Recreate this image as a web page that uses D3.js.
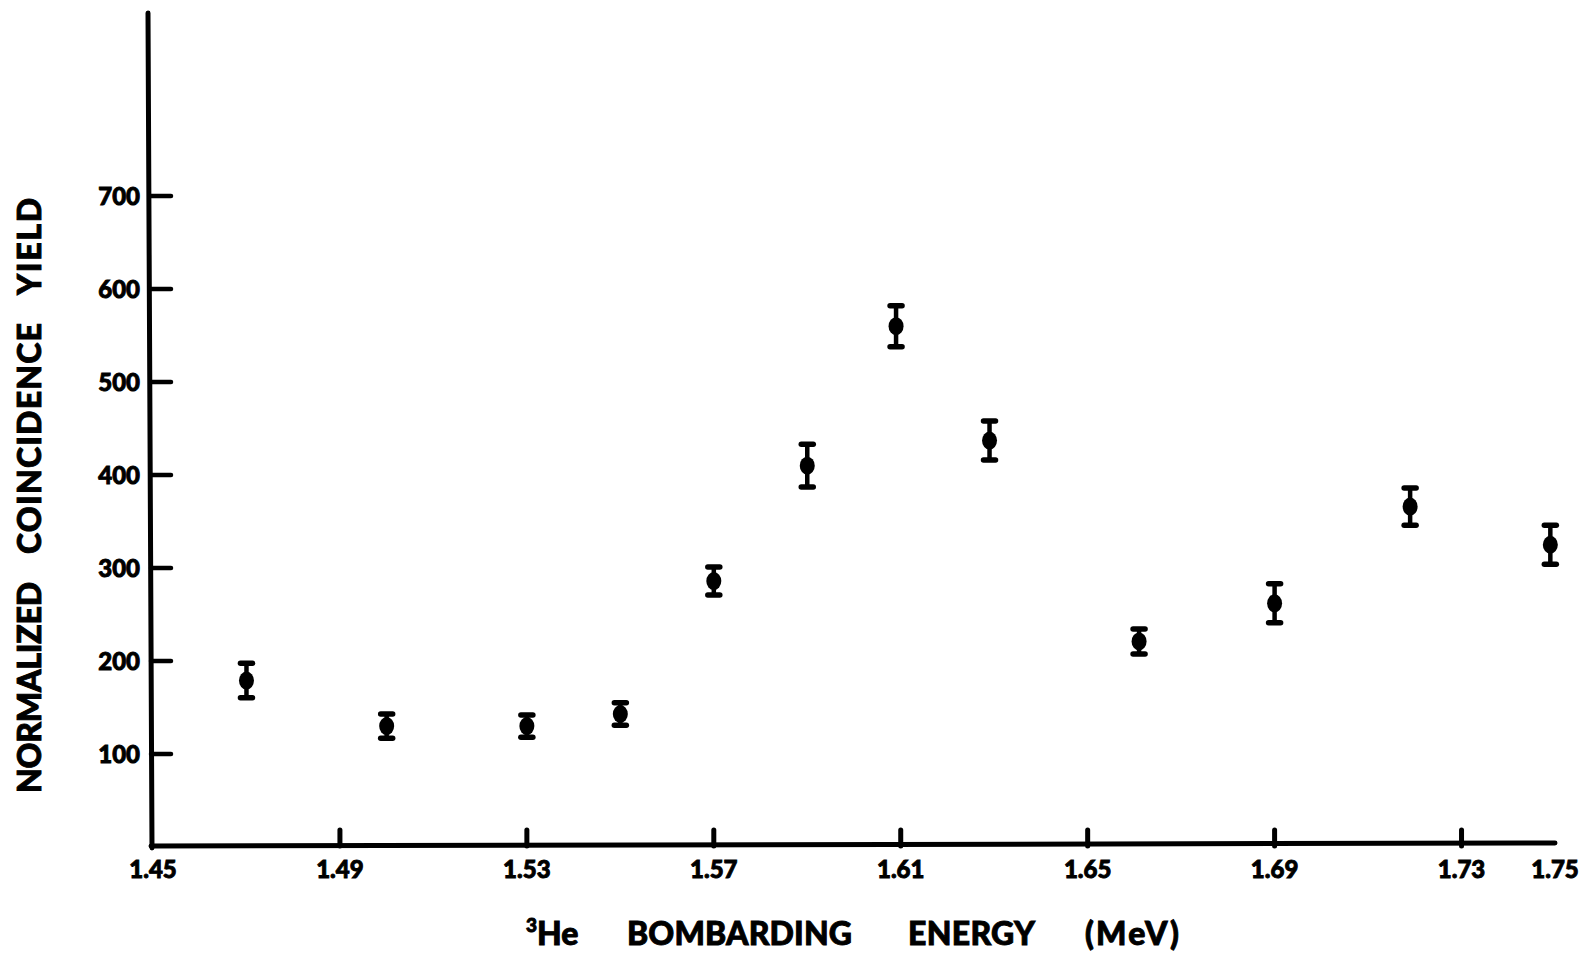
<!DOCTYPE html>
<html>
<head>
<meta charset="utf-8">
<script src="https://cdn.jsdelivr.net/npm/d3@7"></script>
<style>
  html, body { margin: 0; padding: 0; background: #fff; }
  svg { display: block; }
  text { font-family: Lato, "Open Sans", sans-serif; font-weight: 900; fill: #000; stroke: #000; stroke-width: 0.9; }
</style>
</head>
<body>
<svg id="chart" width="1594" height="958"></svg>
<script>
// ---- data ----
const energies = [1.47, 1.50, 1.53, 1.55, 1.57, 1.59, 1.609, 1.629, 1.661, 1.69, 1.719, 1.749];
const yields   = [179, 130, 130, 143, 286, 410, 560, 437, 221, 262, 366, 325];
const errors   = [18.5, 13, 12, 12, 15, 23, 22, 21, 13.5, 21, 20, 21];
const xTicks = [1.49, 1.53, 1.57, 1.61, 1.65, 1.69, 1.73];
const xTickLabels = [1.45, 1.49, 1.53, 1.57, 1.61, 1.65, 1.69, 1.73, 1.75];
const yTicks = [100, 200, 300, 400, 500, 600, 700];

const svg = d3.select("#chart");
const x = d3.scaleLinear().domain([1.45, 1.75]).range([153, 1555]);
const y = d3.scaleLinear().domain([0, 700]).range([847, 196]);

const axisX0 = 151, axisY0 = 846;

// axes lines
svg.append("line").attr("x1", axisX0 - 3).attr("x2", axisX0 + 1).attr("y1", 13).attr("y2", axisY0 + 2)
  .attr("stroke", "#000").attr("stroke-width", 5).attr("stroke-linecap", "round");
svg.append("line").attr("x1", axisX0).attr("x2", x(1.75)).attr("y1", axisY0).attr("y2", axisY0 - 3)
  .attr("stroke", "#000").attr("stroke-width", 5).attr("stroke-linecap", "round");

// y ticks
svg.selectAll(".yt").data(yTicks).join("line")
  .attr("x1", axisX0).attr("x2", axisX0 + 20)
  .attr("y1", d => y(d)).attr("y2", d => y(d))
  .attr("stroke", "#000").attr("stroke-width", 4.5).attr("stroke-linecap", "round");
svg.selectAll(".yl").data(yTicks).join("text")
  .attr("x", 140).attr("y", d => y(d)).attr("dy", "0.36em")
  .attr("text-anchor", "end").attr("font-size", 24)
  .text(d => d);

// x ticks
svg.selectAll(".xt").data(xTicks).join("line")
  .attr("x1", d => x(d)).attr("x2", d => x(d))
  .attr("y1", axisY0).attr("y2", axisY0 - 16)
  .attr("stroke", "#000").attr("stroke-width", 5).attr("stroke-linecap", "round");
svg.selectAll(".xl").data(xTickLabels).join("text")
  .attr("x", d => x(d)).attr("y", 878)
  .attr("text-anchor", "middle").attr("font-size", 24)
  .text(d => d.toFixed(2));

// error bars
const g = svg.append("g");
const pts = energies.map((e, i) => ({ e, v: yields[i], err: errors[i] }));
const eb = g.selectAll(".eb").data(pts).join("g");
eb.append("line")
  .attr("x1", d => x(d.e)).attr("x2", d => x(d.e))
  .attr("y1", d => y(d.v + d.err)).attr("y2", d => y(d.v - d.err))
  .attr("stroke", "#000").attr("stroke-width", 4.5);
eb.append("line")
  .attr("x1", d => x(d.e) - 6).attr("x2", d => x(d.e) + 6)
  .attr("y1", d => y(d.v + d.err)).attr("y2", d => y(d.v + d.err))
  .attr("stroke", "#000").attr("stroke-width", 5.5).attr("stroke-linecap", "round");
eb.append("line")
  .attr("x1", d => x(d.e) - 6).attr("x2", d => x(d.e) + 6)
  .attr("y1", d => y(d.v - d.err)).attr("y2", d => y(d.v - d.err))
  .attr("stroke", "#000").attr("stroke-width", 5.5).attr("stroke-linecap", "round");
eb.append("ellipse")
  .attr("cx", d => x(d.e)).attr("cy", d => y(d.v))
  .attr("rx", 7.5).attr("ry", 9).attr("fill", "#000");

// x axis title
const xt = svg.append("g").attr("font-size", 32);
const t1 = xt.append("text").attr("x", 526).attr("y", 945);
t1.append("tspan").attr("font-size", 19).attr("dy", -13).text("3");
t1.append("tspan").attr("dy", 13).text("He");
xt.append("text").attr("x", 627).attr("y", 945).attr("textLength", 225).text("BOMBARDING");
xt.append("text").attr("x", 908).attr("y", 945).attr("textLength", 127).text("ENERGY");
xt.append("text").attr("x", 1085).attr("y", 945).attr("textLength", 94).text("(MeV)");

// y axis title
const yt = svg.append("g").attr("font-size", 32);
[["NORMALIZED", 793, 211], ["COINCIDENCE", 554, 231], ["YIELD", 295, 97]].forEach(([w, p, L]) => {
  yt.append("text").attr("transform", `translate(41,${p}) rotate(-90)`).attr("textLength", L).text(w);
});
</script>
</body>
</html>
